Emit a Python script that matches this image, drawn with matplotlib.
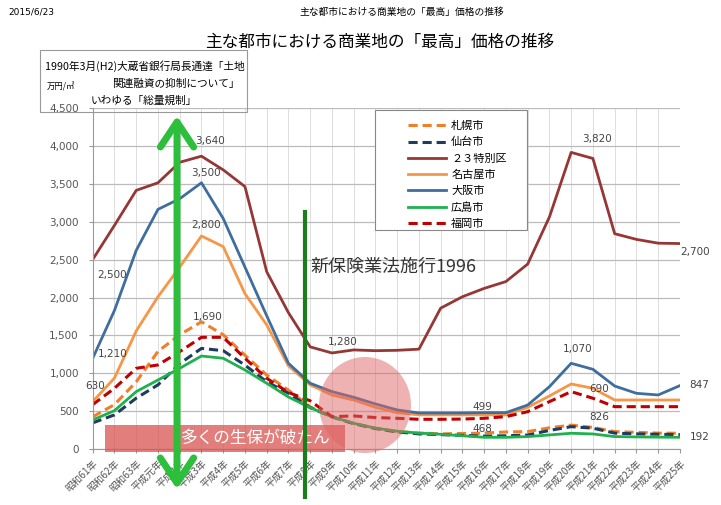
import matplotlib
matplotlib.use("Agg")
import matplotlib.pyplot as plt
from matplotlib.lines import Line2D
from matplotlib.patches import Ellipse, Rectangle, FancyArrowPatch

plt.rcParams['font.family'] = ['Noto Sans CJK JP', 'DejaVu Sans']

years = ['昭和61年', '昭和62年', '昭和63年', '平成元年'] + ['平成%d年' % n for n in range(2, 26)]

sapporo = [430, 590, 890, 1290, 1510, 1680, 1510, 1240, 980, 780, 560, 430, 340, 280, 235, 215,
           205, 210, 215, 230, 235, 285, 320, 290, 235, 225, 215, 213]
sendai = [350, 455, 675, 850, 1130, 1330, 1300, 1110, 890, 740, 550, 430, 340, 275, 230, 205,
          195, 185, 175, 180, 190, 250, 300, 280, 215, 205, 200, 195]
ku23 = [2500, 2950, 3410, 3510, 3780, 3860, 3680, 3460, 2340, 1800, 1350, 1270, 1310, 1300,
        1305, 1320, 1860, 2010, 2120, 2210, 2440, 3060, 3910, 3830, 2840, 2765, 2715, 2710]
nagoya = [630, 940, 1560, 2010, 2400, 2810, 2670, 2050, 1640, 1100, 850, 717, 651, 555,
          484, 455, 455, 455, 455, 455, 555, 704, 862, 805, 651, 651, 651, 651]
osaka = [1200, 1830, 2620, 3160, 3300, 3510, 3040, 2400, 1760, 1134, 871, 761, 687, 599,
         520, 480, 480, 480, 484, 484, 585, 826, 1134, 1055, 835, 739, 717, 840]
hiroshima = [388, 511, 761, 914, 1068, 1230, 1200, 1046, 871, 690, 550, 430, 345, 280,
             240, 215, 200, 180, 160, 160, 169, 191, 213, 204, 169, 165, 162, 160]
fukuoka = [590, 805, 1068, 1112, 1287, 1476, 1476, 1200, 937, 750, 640, 432, 441, 420,
           410, 397, 397, 400, 410, 432, 497, 629, 761, 674, 563, 563, 563, 563]

series = [
    ('札幌市', sapporo, '#F07F2A', '--'),
    ('仙台市', sendai, '#1F3B5E', '--'),
    ('２３特別区', ku23, '#953735', '-'),
    ('名古屋市', nagoya, '#F79646', '-'),
    ('大阪市', osaka, '#3F6E9E', '-'),
    ('広島市', hiroshima, '#1FB04F', '-'),
    ('福岡市', fukuoka, '#C00000', '--'),
]

# value labels: (x index, y value, text)
value_labels = [(5.4, 4060, '3,640'), (5.2, 3640, '3,500'), (5.2, 2960, '2,800'), (0.9, 2290, '2,500'),
                (5.3, 1740, '1,690'), (0.9, 1250, '1,210'), (0.1, 830, '630'), (11.5, 1420, '1,280'),
                (17.9, 560, '499'), (17.9, 270, '468'), (23.2, 4090, '3,820'), (27.7, 2600, '2,700'),
                (22.3, 1320, '1,070'), (23.3, 800, '690'), (23.3, 430, '826'), (27.9, 850, '847'),
                (27.9, 170, '192')]

fig = plt.figure(figsize=(7.21, 5.05), dpi=100)
ax = fig.add_axes([0.1286, 0.11, 0.8144, 0.677])

x = list(range(len(years)))
for name, vals, col, ls in series:
    if ls == '--':
        ax.plot(x, vals, color=col, ls=ls, lw=2.2, dashes=(3, 1.6), label=name)
    else:
        ax.plot(x, vals, color=col, ls=ls, lw=2.0, label=name)

for xi, yv, t in value_labels:
    ax.text(xi, yv, t, fontsize=7.5, color='#444444', ha='center', va='center',
            family=['DejaVu Sans'], clip_on=False)

ax.set_xlim(0, len(years) - 1)
ax.set_ylim(0, 4500)
ax.set_yticks(range(0, 4501, 500))
ax.set_yticklabels(['{:,}'.format(v) for v in range(0, 4501, 500)], fontsize=7.5, color='#555555',
                   family=['DejaVu Sans'])
ax.set_xticks(x)
ax.set_xticklabels(years, rotation=45, ha='right', rotation_mode='anchor', fontsize=7, color='#555555')
ax.tick_params(axis='y', length=3, color='#999999', pad=7)
ax.tick_params(axis='x', length=3, color='#999999', pad=3)
ax.grid(axis='y', color='#BBBBBB', lw=0.9)
ax.grid(axis='x', color='#DDDDDD', lw=0.7)
for s in ['top', 'right']:
    ax.spines[s].set_visible(False)
for s in ['left', 'bottom']:
    ax.spines[s].set_color('#999999')

# legend: own frame, frameless legend inside
fig.patches.append(Rectangle((375 / 721, 1 - 230 / 505), 152 / 721, 120 / 505, transform=fig.transFigure,
                             facecolor='white', edgecolor='#888888', lw=0.8, zorder=1))
leg = fig.legend(loc='upper left', bbox_to_anchor=(400 / 721, 1 - 113 / 505), fontsize=8,
                 handlelength=3.4, handletextpad=0.5, frameon=False, borderpad=0.2, labelspacing=0.55)
leg.set_zorder(3)

# header and title
fig.text(8 / 721, 1 - 12 / 505, '2015/6/23', fontsize=6.5, va='center', family=['DejaVu Sans'])
fig.text(402 / 721, 1 - 12 / 505, '主な都市における商業地の「最高」価格の推移', fontsize=7, ha='center', va='center')
fig.text(380 / 721, 1 - 42 / 505, '主な都市における商業地の「最高」価格の推移', fontsize=12, ha='center', va='center')

# regulation box
fig.patches.append(Rectangle((40 / 721, 1 - 112 / 505), 207 / 721, 62 / 505, transform=fig.transFigure,
                             facecolor='none', edgecolor='#999999', lw=0.8, zorder=2))
fig.text(45 / 721, 1 - 66 / 505, '1990年3月(H2)大蔵省銀行局長通達「土地', fontsize=7.7, va='center', zorder=3)
fig.text(240 / 721, 1 - 84 / 505, '関連融資の抑制について」', fontsize=7.7, ha='right', va='center', zorder=3)
fig.text(197 / 721, 1 - 101 / 505, 'いわゆる「総量規制」', fontsize=7.7, ha='right', va='center', zorder=3)
fig.text(47 / 721, 1 - 87 / 505, '万円/㎡', fontsize=6, va='center', zorder=3)

# bankruptcies band
fig.patches.append(Rectangle((105 / 721, 1 - 452 / 505), 240 / 721, 27 / 505, transform=fig.transFigure,
                             facecolor='#D9534F', alpha=0.75, lw=0, zorder=2))
fig.text(256 / 721, 1 - 438 / 505, '多くの生保が破たん', fontsize=12, color='white', ha='center', va='center', zorder=3)

# circle
fig.patches.append(Ellipse((365 / 721, 1 - 405 / 505), 92 / 721, 96 / 505, transform=fig.transFigure,
                           facecolor='#E06666', alpha=0.5, lw=0, zorder=2))

# 1996 line
fig.lines.append(Line2D([305 / 721, 305 / 721], [1 - 212 / 505, 1 - 497 / 505], transform=fig.transFigure,
                        color='#1A7F1A', lw=3, zorder=4))
fig.text(310 / 721, 1 - 267 / 505, '新保険業法施行1996', fontsize=13, color='#333333', va='center', zorder=3)

# green double arrow
fig.patches.append(FancyArrowPatch((177 / 721, 1 - 492 / 505), (177 / 721, 1 - 113 / 505),
                                   transform=fig.transFigure, arrowstyle='<->,head_length=0.9,head_width=0.6',
                                   mutation_scale=20, color='#2DBE3C', lw=5, zorder=4))

fig.savefig('out.png', dpi=100)
